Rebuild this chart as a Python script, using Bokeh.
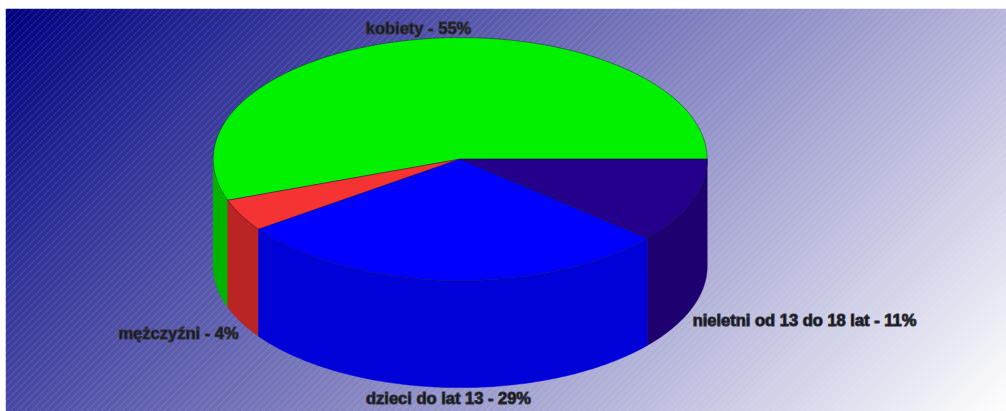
import numpy as np
from bokeh.plotting import figure
from bokeh.models import Range1d
from bokeh.core.properties import value
from bokeh.embed import file_html
from bokeh.resources import INLINE

categories = ["kobiety", "mężczyźni", "dzieci do lat 13", "nieletni od 13 do 18 lat"]
shares = [55.5, 4.3, 28.9, 11.3]
percent_labels = [55, 4, 29, 11]

top_colors = ["#00f000", "#f53333", "#0000ff", "#24008c"]
side_colors = ["#00b400", "#bb2424", "#0000d8", "#1e0070"]
label_x = [418, 178, 448, 804]
label_y = [27, 332, 397, 319]

W, H = 1001, 403
LEFT, TOP = 5, 8
CX, CY, RX, RY, DEPTH = 459.7, 158.6, 247, 121.5, 107


def Y(py):
    """Page-pixel row to the upward data axis."""
    return TOP + H - np.asarray(py, dtype=float)


p = figure(width=W, height=H, output_backend="svg", toolbar_location=None,
           x_range=Range1d(LEFT, LEFT + W), y_range=Range1d(0, H),
           min_border=0, margin=(TOP, 0, 0, LEFT))
p.axis.visible = False
p.grid.visible = False
p.outline_line_color = None

# diagonal gradient with a fine pale diagonal hatch
yy, xx = np.mgrid[0:H, 0:W]
t = (xx + yy) / (W + H)
r = 255 * t
g = 255 * t
b = 128 + 127 * t
hatch = ((xx + yy) % 7 == 0) * ((xx % 2) == 0) * 0.34
r = r + (255 - r) * hatch
g = g + (255 - g) * hatch
b = b + (255 - b) * hatch
img = np.zeros((H, W), dtype=np.uint32)
view = img.view(np.uint8).reshape((H, W, 4))
view[..., 0] = r.astype(np.uint8)
view[..., 1] = g.astype(np.uint8)
view[..., 2] = b.astype(np.uint8)
view[..., 3] = 255
p.image_rgba(image=[img[::-1]], x=LEFT, y=0, dw=W, dh=H)

cum = np.cumsum([0] + shares) / sum(shares) * 2 * np.pi
LINE = "#10103a"

# side walls (lower half of the rim only)
for i in range(len(shares)):
    a0, a1 = max(cum[i], np.pi), cum[i + 1]
    if a1 <= np.pi:
        continue
    th = np.linspace(a0, a1, 80)
    ex = CX + RX * np.cos(th)
    ey = CY - RY * np.sin(th)
    xs = np.concatenate([ex, ex[::-1]])
    ys = np.concatenate([ey, ey[::-1] + DEPTH])
    p.patch(xs, Y(ys), fill_color=side_colors[i], line_color=side_colors[i], line_width=0.5)

# top face
for i in range(len(shares)):
    th = np.linspace(cum[i], cum[i + 1], 200)
    xs = np.concatenate([[CX], CX + RX * np.cos(th)])
    ys = np.concatenate([[CY], CY - RY * np.sin(th)])
    p.patch(xs, Y(ys), fill_color=top_colors[i], line_color=LINE, line_width=0.6, line_alpha=0.7)

for c, n, x, y in zip(categories, percent_labels, label_x, label_y):
    p.text(x=[x], y=[float(Y(y))], text=[f"{c} - {n}%"], text_align="center", text_baseline="middle",
           text_font=value("Liberation Sans"), text_font_style="bold",
           text_font_size="16.5px", text_color="#101018", outline_color="#30303a")

open("out.html", "w").write(file_html(p, INLINE))
